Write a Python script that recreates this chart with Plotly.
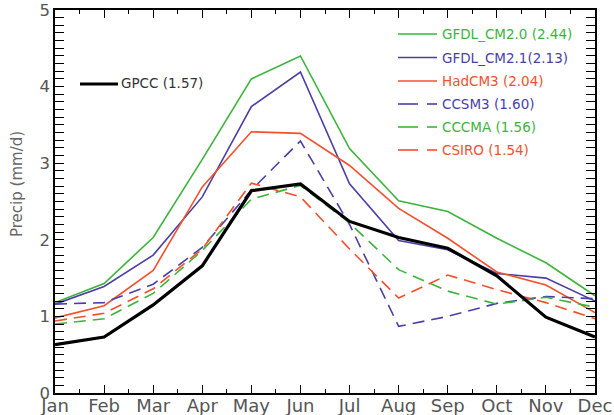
import plotly.graph_objects as go

months = ["Jan", "Feb", "Mar", "Apr", "May", "Jun", "Jul", "Aug", "Sep", "Oct", "Nov", "Dec"]

gpcc = [0.63, 0.73, 1.15, 1.66, 2.64, 2.73, 2.24, 2.03, 1.89, 1.53, 0.99, 0.73]
gfdl_cm20 = [1.18, 1.43, 2.03, 3.05, 4.10, 4.40, 3.19, 2.51, 2.37, 2.02, 1.70, 1.27]
gfdl_cm21 = [1.16, 1.39, 1.80, 2.56, 3.74, 4.19, 2.73, 1.99, 1.87, 1.56, 1.50, 1.20]
hadcm3 = [0.98, 1.14, 1.60, 2.69, 3.41, 3.39, 2.97, 2.41, 2.02, 1.58, 1.41, 1.05]
ccsm3 = [1.16, 1.18, 1.42, 1.90, 2.65, 3.29, 2.20, 0.87, 1.00, 1.17, 1.26, 1.23]
cccma = [0.90, 0.97, 1.30, 1.86, 2.53, 2.71, 2.22, 1.61, 1.33, 1.16, 1.25, 1.12]
csiro = [0.94, 1.04, 1.36, 1.88, 2.74, 2.56, 1.88, 1.24, 1.54, 1.35, 1.18, 0.97]

GREEN = "#3cb43c"
BLUE = "#4a3fa8"
RED = "#f4502c"

# (name, values, colour, dashed, legend label)
models = [
    ("GFDL_CM2.0", gfdl_cm20, GREEN, False, "GFDL_CM2.0 (2.44)"),
    ("GFDL_CM2.1", gfdl_cm21, BLUE, False, "GFDL_CM2.1(2.13)"),
    ("HadCM3", hadcm3, RED, False, "HadCM3 (2.04)"),
    ("CCSM3", ccsm3, BLUE, True, "CCSM3 (1.60)"),
    ("CCCMA", cccma, GREEN, True, "CCCMA (1.56)"),
    ("CSIRO", csiro, RED, True, "CSIRO (1.54)"),
]

x = list(range(len(months)))
fig = go.Figure()

for name, vals, col, dashed, _ in models:
    fig.add_trace(go.Scatter(
        x=x, y=vals, mode="lines", name=name, showlegend=False,
        line=dict(color=col, width=1.6, dash="12px,7px" if dashed else "solid"),
    ))

# observations drawn on the label-carrying x axis (same range as the main one)
fig.add_trace(go.Scatter(
    x=x, y=gpcc, mode="lines", name="GPCC", showlegend=False, xaxis="x2",
    line=dict(color="black", width=3.2),
))

# plot-area geometry in pixels, used to place the hand-drawn legend
W, H = 614, 415
L, R, T, B = 55, 19, 10, 22
pw, ph = W - L - R, H - T - B


def px(xp):
    return (xp - L) / pw


def py(yp):
    return (H - B - yp) / ph


FONT = "DejaVu Sans"
shapes = []
annotations = []
rows = [34, 57.5, 81, 104, 127, 150]
for (name, vals, col, dashed, label), yr in zip(models, rows):
    if dashed:
        segs = [(398, 418), (427, 437)]
    else:
        segs = [(398, 437)]
    for a, b in segs:
        shapes.append(dict(type="line", xref="paper", yref="paper",
                           x0=px(a), x1=px(b), y0=py(yr), y1=py(yr),
                           line=dict(color=col, width=1.6)))
    annotations.append(dict(xref="paper", yref="paper", x=px(440), y=py(yr),
                            text=label, showarrow=False, xanchor="left", yanchor="middle",
                            font=dict(color=col, size=13.5, family=FONT)))

shapes.append(dict(type="line", xref="paper", yref="paper",
                   x0=px(80), x1=px(118), y0=py(84), y1=py(84),
                   line=dict(color="black", width=3.2)))
annotations.append(dict(xref="paper", yref="paper", x=px(119), y=py(83),
                        text="GPCC (1.57)", showarrow=False, xanchor="left", yanchor="middle",
                        font=dict(color="#333333", size=13.5, family=FONT)))

annotations.append(dict(xref="paper", yref="paper", x=px(17), y=py(184),
                        text="Precip (mm/d)", showarrow=False, textangle=-90,
                        xanchor="center", yanchor="middle",
                        font=dict(color="#666666", size=15, family=FONT)))

fig.update_layout(
    width=W, height=H,
    margin=dict(l=L, r=R, t=T, b=B, pad=0, autoexpand=False),
    paper_bgcolor="white", plot_bgcolor="white",
    shapes=shapes, annotations=annotations,
    # frame and ticks (months with half-month minor ticks)
    xaxis=dict(
        range=[0, 11], tickmode="linear", tick0=0, dtick=1, automargin=False,
        showticklabels=False,
        showgrid=False, zeroline=False, showline=True, linecolor="black", linewidth=1.5,
        mirror="allticks", ticks="inside", ticklen=8, tickwidth=1.3, tickcolor="black",
        minor=dict(dtick=0.5, ticks="inside", ticklen=4, tickwidth=1.1, tickcolor="black"),
    ),
    # month labels
    xaxis2=dict(
        overlaying="x", anchor="y", side="bottom", range=[0, 11],
        tickmode="linear", tick0=0, dtick=1, automargin=False,
        labelalias={str(i): m for i, m in enumerate(months)},
        tickfont=dict(color="#555555", size=18, family=FONT),
        showgrid=False, zeroline=False, showline=False, ticks="",
    ),
    yaxis=dict(
        range=[0, 5], tickmode="linear", tick0=0, dtick=1, automargin=False,
        tickfont=dict(color="#555555", size=16.5, family=FONT),
        showgrid=False, zeroline=False, showline=True, linecolor="black", linewidth=1.5,
        mirror="allticks", ticks="inside", ticklen=9, tickwidth=1.3, tickcolor="black",
        minor=dict(dtick=0.1, ticks="inside", ticklen=5, tickwidth=1.1, tickcolor="black"),
    ),
)

fig.write_html("out.html")
